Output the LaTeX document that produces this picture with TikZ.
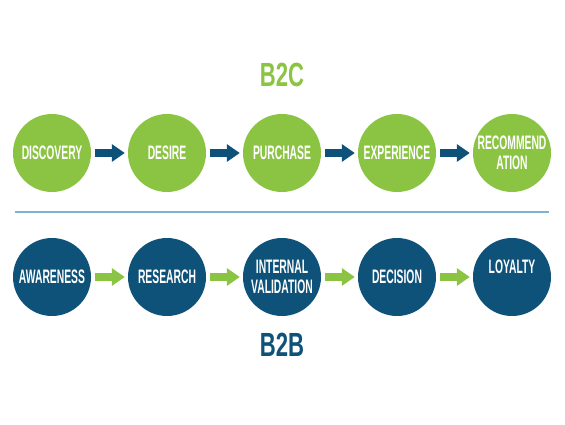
\documentclass[tikz,border=0pt]{standalone}
\usepackage{fontspec}
\newfontfamily\condfont[FakeStretch=0.53]{Liberation Sans}
\newfontfamily\headfont[FakeStretch=0.66]{Liberation Sans}
\usetikzlibrary{positioning, arrows.meta}
\definecolor{bgreen}{HTML}{8BC443}
\definecolor{bblue}{HTML}{0E5179}
\definecolor{lblue}{HTML}{7EB3CB}
\tikzstyle{stage}=[inner sep=0pt, shape=circle, minimum size=78pt, text=white, align=center, font=\condfont\bfseries\fontsize{19.5}{20}\selectfont]
\tikzstyle{flow}=[line width=8pt, -{Triangle[length=13pt, width=17pt]}, shorten <= 4pt, shorten >= 3pt]
\tikzstyle{title}=[inner sep=0pt, font=\headfont\bfseries\fontsize{33.5}{36}\selectfont]

\begin{document}
\begin{tikzpicture}[x=1pt, y=-1pt]
\useasboundingbox (0,0) rectangle (565,424);
% the title of the upper row
\node[title, text=bgreen] (T0) at (282,75) {B2C};
% the upper circles
\node[stage, fill=bgreen] (C0) at (52,153) {DISCOVERY};
\node[stage, fill=bgreen] (C1) at (167,153) {DESIRE};
\node[stage, fill=bgreen] (C2) at (282,153) {PURCHASE};
\node[stage, fill=bgreen] (C3) at (397,153) {EXPERIENCE};
\node[stage, fill=bgreen] (C4) at (512,153) {RECOMMEND\\ATION};
% the separating line
\coordinate (S0) at (15,212);
\coordinate (S1) at (549,212);
\draw[lblue, line width=2pt] (S0) -- (S1);
% the lower circles
\node[stage, fill=bblue] (B0) at (52,277) {AWARENESS};
\node[stage, fill=bblue] (B1) at (167,277) {RESEARCH};
\node[stage, fill=bblue] (B2) at (282,277) {INTERNAL\\VALIDATION};
\node[stage, fill=bblue] (B3) at (397,277) {DECISION};
\node[stage, fill=bblue] (B4) at (512,277) {LOYALTY\\\mbox{}};
% the title of the lower row
\node[title, text=bblue] (T1) at (282,345) {B2B};
% the arrows
\draw[flow, bblue] (C0) -- (C1);
\draw[flow, bblue] (C1) -- (C2);
\draw[flow, bblue] (C2) -- (C3);
\draw[flow, bblue] (C3) -- (C4);
\draw[flow, bgreen] (B0) -- (B1);
\draw[flow, bgreen] (B1) -- (B2);
\draw[flow, bgreen] (B2) -- (B3);
\draw[flow, bgreen] (B3) -- (B4);
\end{tikzpicture}
\end{document}
